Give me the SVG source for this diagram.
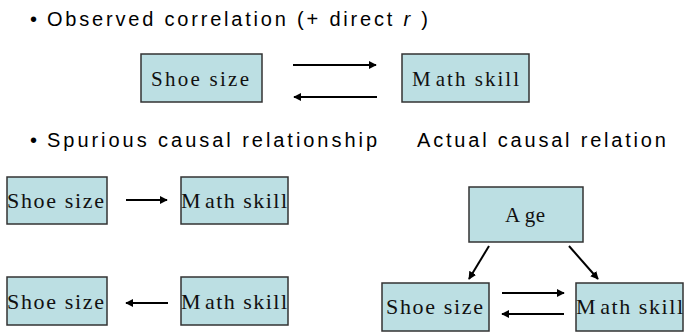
<svg xmlns="http://www.w3.org/2000/svg" width="694" height="333" viewBox="0 0 694 333">
<defs>
<marker id="ah" viewBox="0 0 10 10" refX="9" refY="5" markerWidth="4" markerHeight="4" orient="auto" markerUnits="strokeWidth">
<path d="M0,0 L10,5 L0,10 z" fill="#000"/>
</marker>
<style>
.box{fill:#bcdfe3;stroke:#333;stroke-width:1.5}
.lbl{font-family:"Liberation Serif","Times New Roman",serif;font-size:21px;fill:#111}
.big{font-size:22px}
.hd{font-family:"Liberation Sans",Arial,sans-serif;font-size:20px;fill:#000}
.arr{stroke:#000;stroke-width:2;fill:none;marker-end:url(#ah)}
</style>
</defs>
<rect width="694" height="333" fill="#fff"/>
<text class="hd" x="30" y="26">•</text>
<text class="hd" x="47" y="26" textLength="381" lengthAdjust="spacing">Observed correlation (+ direct <tspan font-style="italic">r</tspan> )</text>
<text class="hd" x="30" y="147">•</text>
<text class="hd" x="47" y="147" textLength="330" lengthAdjust="spacing">Spurious causal relationship</text>
<text class="hd" x="417" y="147" letter-spacing="2.8">Actual causal relation</text>
<g id="n1"><rect class="box" x="141" y="54" width="121" height="48"/><text class="lbl" x="151" y="86" textLength="98" lengthAdjust="spacing">Shoe size</text></g>
<g id="n2"><rect class="box" x="402" y="54" width="127" height="48"/><text class="lbl" x="412" y="86" textLength="107" lengthAdjust="spacing">M<tspan dx="3">ath skill</tspan></text></g>
<g id="n3"><rect class="box" x="7" y="177" width="100" height="47"/><text class="lbl big" x="7" y="208" textLength="97" lengthAdjust="spacing">Shoe size</text></g>
<g id="n4"><rect class="box" x="181" y="177" width="107" height="47"/><text class="lbl big" x="181" y="208" textLength="106" lengthAdjust="spacing">M<tspan dx="3">ath skill</tspan></text></g>
<g id="n5"><rect class="box" x="7" y="277" width="100" height="48"/><text class="lbl big" x="7" y="309" textLength="97" lengthAdjust="spacing">Shoe size</text></g>
<g id="n6"><rect class="box" x="181" y="277" width="107" height="48"/><text class="lbl big" x="181" y="309" textLength="106" lengthAdjust="spacing">M<tspan dx="3">ath skill</tspan></text></g>
<g id="n7"><rect class="box" x="469" y="187" width="114" height="55"/><text class="lbl" x="505" y="222" textLength="40" lengthAdjust="spacing">A<tspan dx="4">ge</tspan></text></g>
<g id="n8"><rect class="box" x="382" y="283" width="107" height="48"/><text class="lbl big" x="386" y="314" textLength="97" lengthAdjust="spacing">Shoe size</text></g>
<g id="n9"><rect class="box" x="576" y="283" width="107" height="48"/><text class="lbl big" x="576" y="314" textLength="107" lengthAdjust="spacing">M<tspan dx="3">ath skill</tspan></text></g>
<g id="connectors">
<line class="arr" x1="293" y1="65" x2="376" y2="65"/>
<line class="arr" x1="377" y1="97" x2="294" y2="97"/>
<line class="arr" x1="126" y1="200" x2="167" y2="200"/>
<line class="arr" x1="168" y1="303" x2="126" y2="303"/>
<line class="arr" x1="489" y1="246" x2="469" y2="279"/>
<line class="arr" x1="569" y1="246" x2="598" y2="279"/>
<line class="arr" x1="502" y1="293" x2="564" y2="293"/>
<line class="arr" x1="564" y1="314" x2="502" y2="314"/>
</g>
</svg>
